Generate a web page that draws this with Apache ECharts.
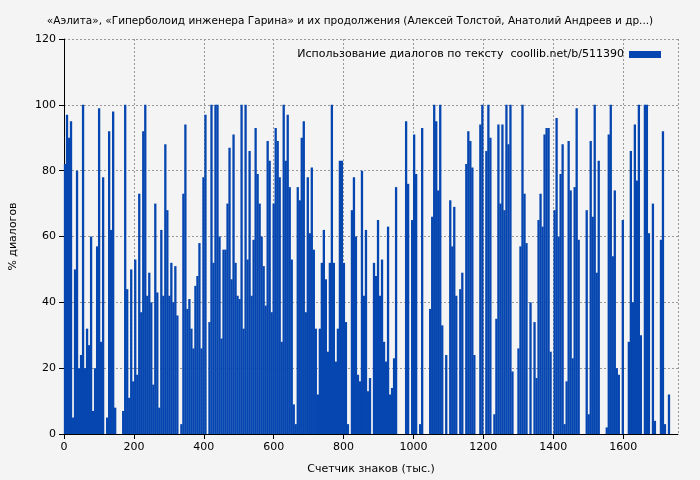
<!DOCTYPE html>
<html><head><meta charset="utf-8">
<script src="https://cdn.jsdelivr.net/npm/echarts@6/dist/echarts.min.js"></script>
<style>html,body{margin:0;padding:0;background:#f4f4f4}#c{width:700px;height:480px}</style>
</head><body><div id="c"></div>
<script>
const titleText = "«Аэлита», «Гиперболоид инженера Гарина» и их продолжения (Алексей Толстой, Анатолий Андреев и др...)";
const seriesName = "Использование диалогов по тексту  coollib.net/b/511390";
const xMax = 1757;
const yTicks = [0, 20, 40, 60, 80, 100, 120];
const part1 = [82,97,90,95,5,50,80,20,24,100,20,32,27,60,7,20,57,99,28,78,0,5,92,62,98,8,0,0,0,7,100,44,11,50,16,53,18,73,37,92,100,42,49,40,15,70,43,8,62,42];
const part2 = [88,68,42,52,40,51,36,0,3,73,94,38,41,32,26,45,48,58,26,78,97,0,34,100,52,100,100,60,29,56,56,70,87,47,91,52,42,41,100,32,100,53,86,42,59,93,79,70,60,51,39,89,83];
const part3 = [37,70,93,89,78,28,100,83,97,75,53,9,3,75,71,90,95,37,78,61,81,56,32,12,32,52,62,47,25,52,100,52,22,32,83,83,52,34,3,0,68,78,60,18,16,80,42,62,13,17,0,52];
const part4 = [48,65,42,53,28,22,63,12,14,23,75,0,0,0,0,95,76,0,65,91,79,0,3,93,0,0,0,38,66,100,95,74,100,33,0,24,0,71,57,69,42,0,44,49,0,82,92,89,81,24,0,0];
const part5 = [94,100,0,86,100,90,0,6,35,94,70,94,68,100,88,100,19,0,0,26,57,100,73,58,0,40,0,34,17,65,73,63,91,93,93,25,0,68,96,60,79,88,3,16,89,74,23,75,99,59,0,0];
const part6 = [0,68,6,89,66,100,49,83,0,0,0,2,91,100,54,74,20,18,0,65,0,0,28,86,40,94,77,100,30,0,100,100,61,0,70,4,0,0,59,92,3,0,12,0,0,0,0];
const values = [...part1, ...part2, ...part3, ...part4, ...part5, ...part6];
const step = xMax / values.length;
const data = values.map((v, i) => [(i + 0.5) * step, v]);

const chart = echarts.init(document.getElementById('c'));
chart.setOption({
  backgroundColor: '#f4f4f4',
  animation: false,
  title: { text: titleText, left: 'center', top: 11, textStyle: { fontFamily: 'DejaVu Sans', fontSize: 10.5, fontWeight: 'normal', color: '#000' } },
  legend: { show: true, right: 34, top: 44, itemWidth: 32, itemHeight: 7, icon: 'rect', align: 'right', itemGap: 6,
    textStyle: { fontFamily: 'DejaVu Sans', fontSize: 11, color: '#000' }, data: [seriesName] },
  grid: { left: 62, right: 22, top: 39, bottom: 46 },
  xAxis: { type: 'value', min: 0, max: xMax, interval: 200,
    name: 'Счетчик знаков (тыс.)', nameLocation: 'middle', nameGap: 30,
    nameTextStyle: { fontFamily: 'DejaVu Sans', fontSize: 11, color: '#000' },
    axisLine: { lineStyle: { color: '#000' } }, axisTick: { lineStyle: { color: '#000' }, length: 5 },
    axisLabel: { fontFamily: 'DejaVu Sans', fontSize: 11, color: '#000', showMaxLabel: false, formatter: v => String(v) },
    splitLine: { show: true, lineStyle: { color: '#999', type: [2, 2] } } },
  yAxis: { type: 'value', min: 0, max: 120, interval: 20,
    name: '% диалогов', nameLocation: 'middle', nameGap: 45,
    nameTextStyle: { fontFamily: 'DejaVu Sans', fontSize: 11, color: '#000' },
    axisLine: { show: true, lineStyle: { color: '#000' } }, axisTick: { show: true, lineStyle: { color: '#000' } },
    axisLabel: { fontFamily: 'DejaVu Sans', fontSize: 11, color: '#000' },
    splitLine: { show: true, lineStyle: { color: '#999', type: [2, 2] } } },
  series: [{ name: seriesName, type: 'bar', data: data, barWidth: 2.3, itemStyle: { color: '#0646b0' }, z: 3 }]
});
</script></body></html>
